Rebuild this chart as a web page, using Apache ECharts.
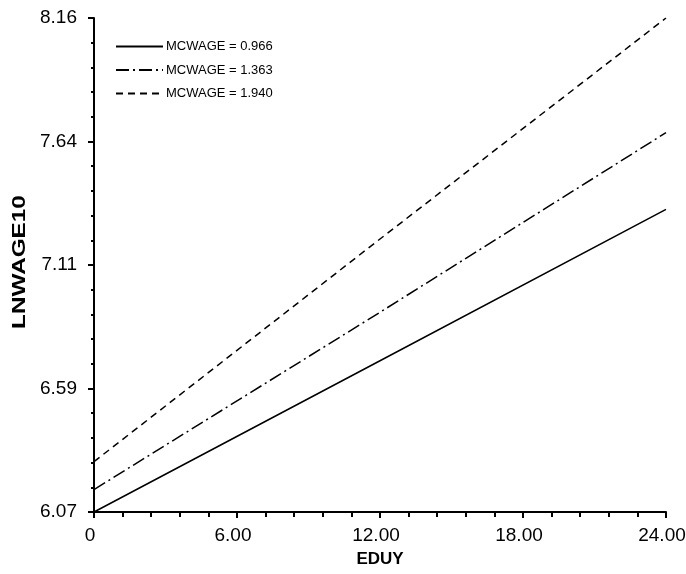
<!DOCTYPE html>
<html>
<head>
    <meta charset="utf-8">
    <title>LNWAGE10 vs EDUY</title>
    <script src="https://cdn.jsdelivr.net/npm/echarts@6/dist/echarts.min.js"></script>
    <style>
        html, body {
            margin: 0;
            padding: 0;
            width: 100%;
            height: 100%;
            overflow: hidden;
            background: #fff;
        }
        #chart {
            width: 686px;
            height: 574px;
        }
    </style>
</head>
<body>
    <div id="chart"></div>
    <script>
        // data
        const eduy = [0, 12, 24];
        const wageLow = [6.07, 6.71, 7.35];
        const wageMid = [6.165, 6.915, 7.675];
        const wageHigh = [6.283, 7.225, 8.16];
        const seriesNames = ['MCWAGE = 0.966', 'MCWAGE = 1.363', 'MCWAGE = 1.940'];
        const yTickLabels = ['6.07', '6.59', '7.11', '7.64', '8.16'];
        const xTickLabels = ['0', '6.00', '12.00', '18.00', '24.00'];

        const yMin = 6.07;
        const yMax = 8.16;
        const yStep = (yMax - yMin) / 4;

        const font = '"Liberation Sans", Arial, sans-serif';

        const chart = echarts.init(document.getElementById('chart'), null, { renderer: 'canvas' });

        function pairs(xs, ys) {
            return xs.map((x, i) => [x, ys[i]]);
        }

        const lineBase = {
            type: 'line',
            symbol: 'none',
            smooth: false,
            animation: false,
            silent: true
        };

        const option = {
            backgroundColor: '#fff',
            textStyle: { fontFamily: font, color: '#000' },
            grid: {
                left: 94, right: 20, top: 18, bottom: 62,
                containLabel: false,
                outerBoundsMode: 'none'
            },
            legend: {
                orient: 'vertical',
                left: 110,
                top: 35,
                itemWidth: 47,
                itemHeight: 13,
                itemGap: 10.5,
                itemStyle: { color: 'transparent', borderColor: 'transparent', borderWidth: 0 },
                textStyle: { fontFamily: font, fontSize: 13, color: '#000', padding: [0, 0, 0, -2] },
                data: seriesNames
            },
            // y axis title is drawn taller than it is wide in the reference
            graphic: [{
                type: 'text',
                x: 20,
                y: 262,
                rotation: Math.PI / 2,
                scaleX: 1.28,
                scaleY: 1,
                style: {
                    text: 'LNWAGE10',
                    fontFamily: font,
                    fontSize: 19,
                    fontWeight: 'bold',
                    fill: '#000',
                    align: 'center',
                    verticalAlign: 'middle'
                }
            }],
            xAxis: {
                type: 'value',
                min: 0,
                max: 24,
                interval: 6,
                name: 'EDUY',
                nameLocation: 'middle',
                nameGap: 39,
                nameTextStyle: { fontFamily: font, fontSize: 17, fontWeight: 'bold', color: '#000' },
                axisLine: { show: true, onZero: false, lineStyle: { color: '#000', width: 2 } },
                axisTick: { show: true, inside: false, length: 6, lineStyle: { color: '#000', width: 2 } },
                minorTick: { show: true, splitNumber: 5, length: 5, lineStyle: { color: '#000', width: 2 } },
                axisLabel: {
                    margin: 14,
                    fontFamily: font,
                    fontSize: 19,
                    color: '#000',
                    hideOverlap: false,
                    padding: [0, 8, 0, 0],
                    formatter: (v) => xTickLabels[Math.round(v / 6)]
                },
                splitLine: { show: false }
            },
            yAxis: {
                type: 'value',
                min: yMin,
                max: yMax,
                interval: yStep,
                axisLine: { show: true, onZero: false, lineStyle: { color: '#000', width: 2 } },
                axisTick: { show: true, inside: false, length: 6, lineStyle: { color: '#000', width: 2 } },
                minorTick: { show: true, splitNumber: 5, length: 3, lineStyle: { color: '#000', width: 2 } },
                axisLabel: {
                    margin: 17,
                    fontFamily: font,
                    fontSize: 19,
                    color: '#000',
                    formatter: (v) => yTickLabels[Math.round((v - yMin) / yStep)]
                },
                splitLine: { show: false }
            },
            series: [
                Object.assign({}, lineBase, {
                    name: seriesNames[0],
                    data: pairs(eduy, wageLow),
                    itemStyle: { color: '#000' },
                    lineStyle: { color: '#000', width: 1.5, type: 'solid' }
                }),
                Object.assign({}, lineBase, {
                    name: seriesNames[1],
                    data: pairs(eduy, wageMid),
                    itemStyle: { color: '#000' },
                    lineStyle: { color: '#000', width: 1.5, type: [13, 4, 2, 4] }
                }),
                Object.assign({}, lineBase, {
                    name: seriesNames[2],
                    data: pairs(eduy, wageHigh),
                    itemStyle: { color: '#000' },
                    lineStyle: { color: '#000', width: 1.5, type: [7, 5] }
                })
            ]
        };

        chart.setOption(option);
    </script>
</body>
</html>
